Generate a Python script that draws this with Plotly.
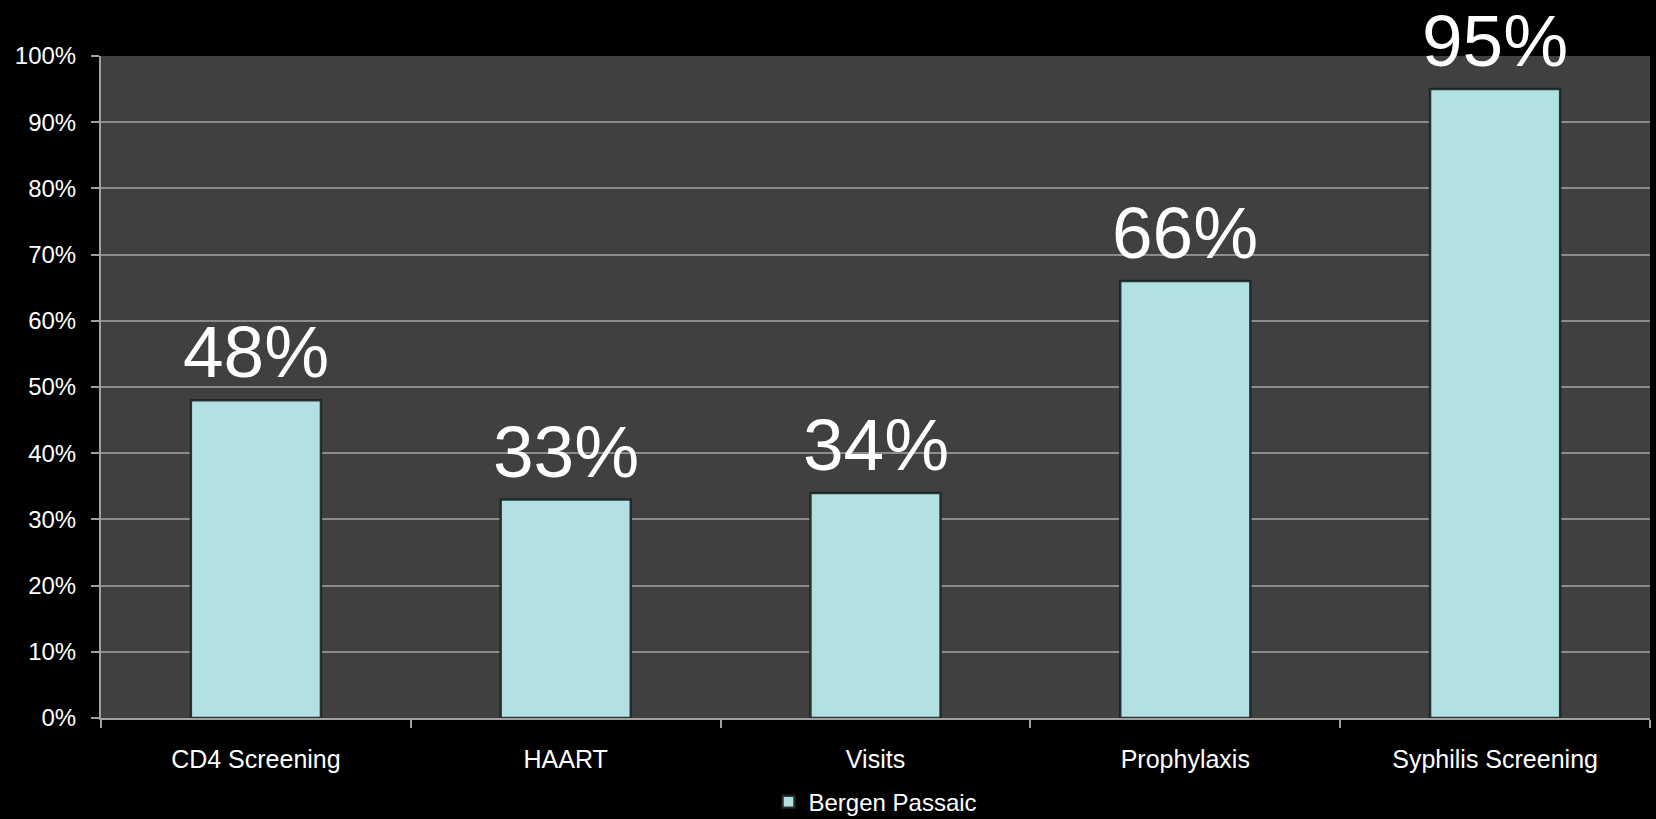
import plotly.graph_objects as go

categories = ["CD4 Screening", "HAART", "Visits", "Prophylaxis", "Syphilis Screening"]
values = [48, 33, 34, 66, 95]
series_name = "Bergen Passaic"
tick_vals = [0, 10, 20, 30, 40, 50, 60, 70, 80, 90, 100]
tick_text = [f"{v}%" for v in tick_vals]

fig = go.Figure()
fig.add_trace(go.Bar(
    x=categories, y=values, name=series_name,
    width=0.42,
    marker=dict(color="#b2e0e3", line=dict(color="rgba(25,35,37,0.9)", width=2.5)),
    showlegend=True,
))

for c, v in zip(categories, values):
    fig.add_annotation(x=c, y=v, text=f"{v}%", showarrow=False,
                       yanchor="bottom", yshift=6,
                       font=dict(family="Liberation Sans, Arial", size=73, color="white"))

fig.update_layout(
    width=1656, height=819,
    paper_bgcolor="black", plot_bgcolor="#404040",
    margin=dict(l=101, r=6, t=56, b=101, autoexpand=False),
    font=dict(family="Liberation Sans, Arial", color="white"),
    showlegend=True,
    legend=dict(orientation="h", x=0.5, xanchor="center", y=-0.127, yanchor="middle",
                font=dict(size=24, color="white"), bgcolor="rgba(0,0,0,0)",
                itemwidth=30),
)
fig.update_xaxes(
    showline=True, linecolor="#a0a0a0", linewidth=2,
    ticks="outside", ticklen=8, tickcolor="#a0a0a0", tickwidth=1.5,
    tickson="boundaries", showgrid=False, automargin=False,
    ticklabelstandoff=18,
    tickfont=dict(size=25, color="white"),
)
fig.update_yaxes(
    range=[0, 100], tickvals=tick_vals, ticktext=tick_text,
    showline=True, linecolor="#a0a0a0", linewidth=2,
    ticks="outside", ticklen=8, tickcolor="#a0a0a0", tickwidth=1.5,
    showgrid=True, gridcolor="#8c8c8c", gridwidth=2,
    zeroline=False, automargin=False,
    ticklabelstandoff=10,
    tickfont=dict(size=24, color="white"),
)

fig.write_html("out.html", config={"displayModeBar": False},
               post_script="document.body.style.margin='0';document.body.style.background='black';")
